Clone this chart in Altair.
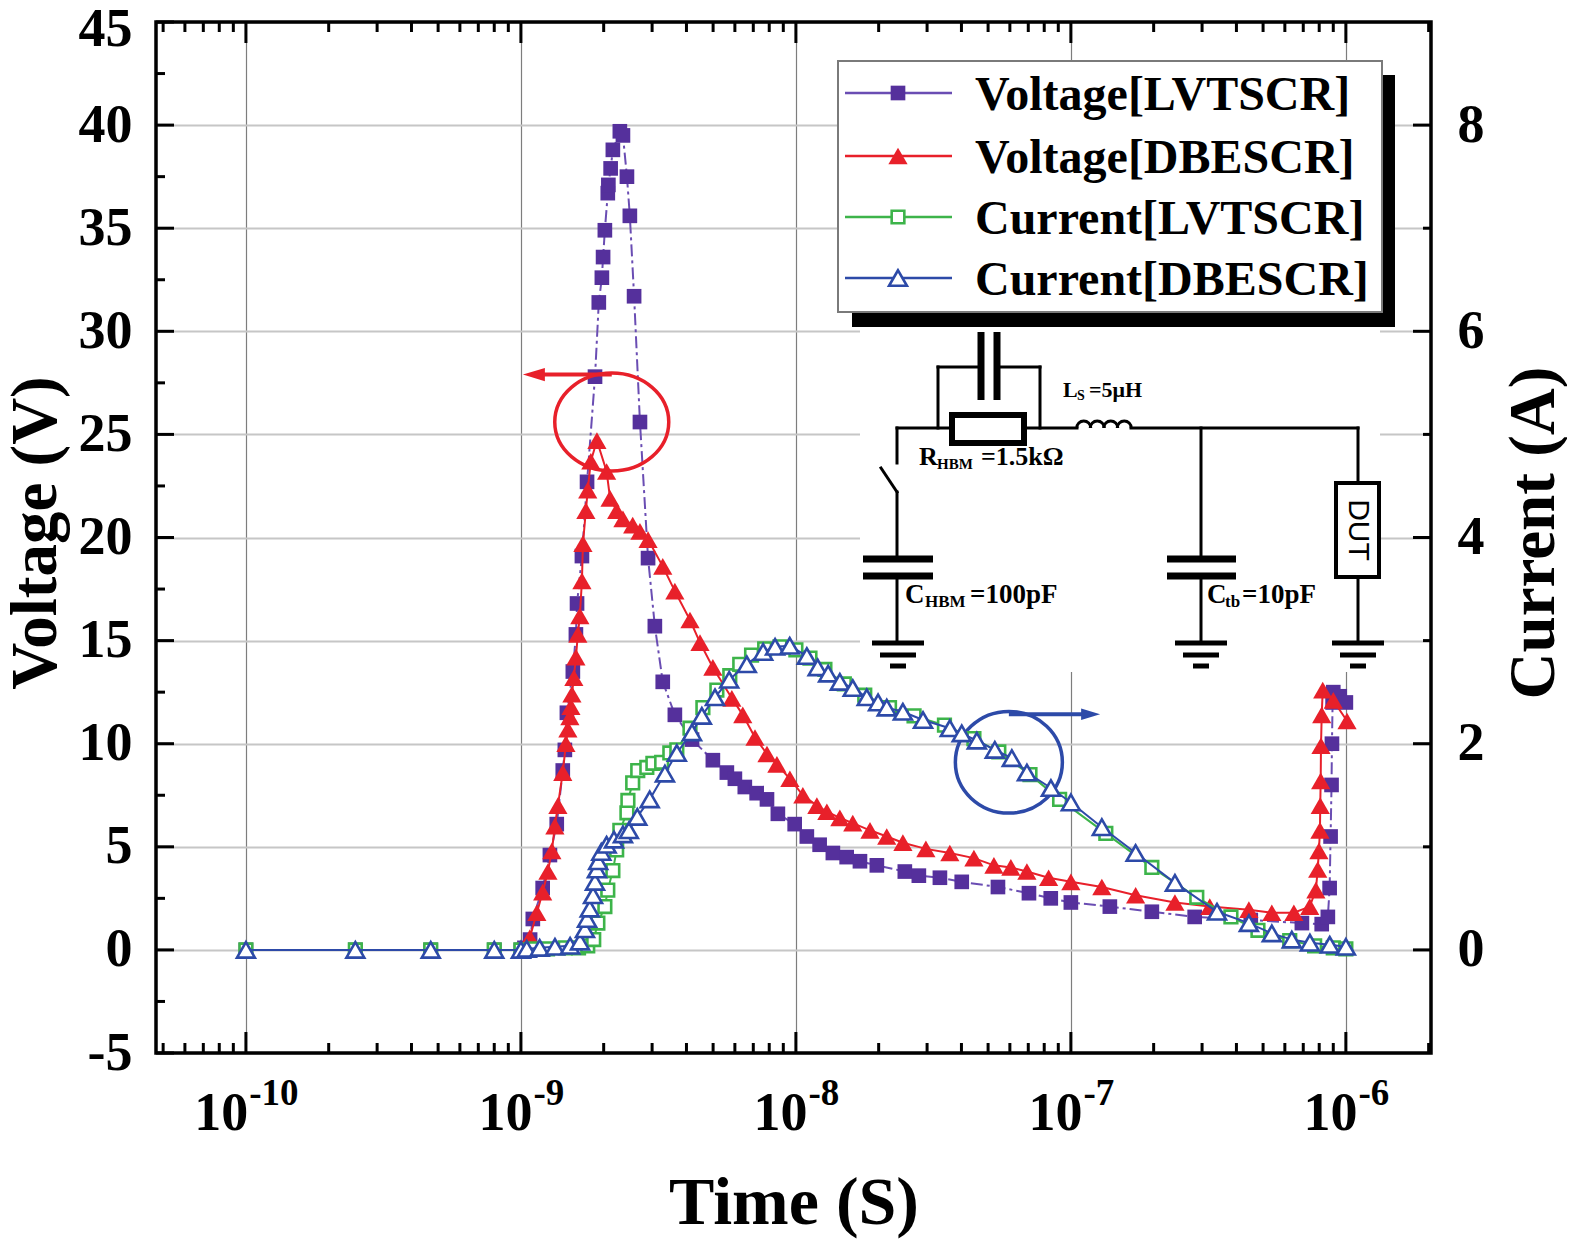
import altair as alt
import pandas as pd

# ---- curves: time (s), voltage (V), current (A) ----
t_volt_lvt = [1e-10, 2.5e-10, 4.7e-10, 8e-10, 1e-9, 1.03e-9, 1.08e-9, 1.105e-9, 1.2e-9, 1.275e-9,
              1.35e-9, 1.42e-9, 1.445e-9, 1.47e-9, 1.545e-9, 1.585e-9, 1.6e-9, 1.667e-9, 1.74e-9, 1.86e-9,
              1.92e-9, 1.97e-9, 1.99e-9, 2.02e-9, 2.07e-9, 2.08e-9, 2.12e-9, 2.16e-9, 2.29e-9, 2.35e-9,
              2.43e-9, 2.49e-9, 2.58e-9, 2.71e-9, 2.9e-9, 3.07e-9, 3.28e-9, 3.63e-9, 4.19e-9, 4.99e-9,
              5.61e-9, 6.0e-9, 6.52e-9, 7.2e-9, 7.85e-9, 8.6e-9, 9.9e-9, 1.096e-8, 1.22e-8, 1.363e-8,
              1.53e-8, 1.71e-8, 1.97e-8, 2.49e-8, 2.8e-8, 3.34e-8, 4.01e-8, 5.43e-8, 7.04e-8, 8.45e-8,
              1e-7, 1.386e-7, 1.97e-7, 2.82e-7, 4.51e-7, 6.92e-7, 8.17e-7, 8.6e-7, 8.73e-7, 8.8e-7,
              8.87e-7, 8.9e-7, 8.95e-7, 9.0e-7, 9.5e-7, 1e-6]
volt_lvt = [0, 0, 0, 0, 0, 0.1, 0.5, 1.5, 3.0, 4.6,
            6.1, 8.7, 9.7, 11.5, 13.5, 15.3, 16.8, 19.1, 22.7, 27.8,
            31.4, 32.6, 33.6, 34.9, 36.7, 37.1, 37.9, 38.8, 39.7, 39.5,
            37.5, 35.6, 31.7, 25.6, 19.0, 15.7, 13.0, 11.4, 10.2, 9.2,
            8.6, 8.3, 7.9, 7.6, 7.3, 6.6, 6.1, 5.5, 5.1, 4.7,
            4.5, 4.3, 4.1, 3.8, 3.6, 3.5, 3.3, 3.05, 2.75, 2.5,
            2.3, 2.1, 1.85, 1.6, 1.45, 1.3, 1.25, 1.6, 3.0, 5.5,
            8.0, 10.0, 12.0, 12.5, 12.3, 12.0]

t_volt_dbe = [1e-10, 2.5e-10, 4.7e-10, 8e-10, 1e-9, 1.04e-9, 1.078e-9, 1.143e-9, 1.2e-9, 1.254e-9,
              1.296e-9, 1.329e-9, 1.363e-9, 1.42e-9, 1.458e-9, 1.482e-9, 1.507e-9, 1.52e-9, 1.533e-9, 1.558e-9,
              1.585e-9, 1.611e-9, 1.638e-9, 1.667e-9, 1.681e-9, 1.723e-9, 1.75e-9, 1.796e-9, 1.89e-9, 2.05e-9,
              2.11e-9, 2.23e-9, 2.35e-9, 2.55e-9, 2.71e-9, 2.9e-9, 3.28e-9, 3.63e-9, 4.12e-9, 4.48e-9,
              4.99e-9, 5.85e-9, 6.41e-9, 7.1e-9, 7.85e-9, 8.53e-9, 9.51e-9, 1.06e-8, 1.192e-8, 1.296e-8,
              1.445e-8, 1.61e-8, 1.86e-8, 2.14e-8, 2.45e-8, 2.97e-8, 3.63e-8, 4.44e-8, 5.25e-8, 6.05e-8,
              6.92e-8, 8.3e-8, 1e-7, 1.296e-7, 1.72e-7, 2.39e-7, 3.2e-7, 4.44e-7, 5.38e-7, 6.47e-7,
              7.39e-7, 7.78e-7, 7.9e-7, 7.98e-7, 8.05e-7, 8.07e-7, 8.1e-7, 8.12e-7, 8.17e-7, 8.24e-7,
              9.0e-7, 1.01e-6]
volt_dbe = [0, 0, 0, 0, 0, 0.1, 0.6, 1.8, 2.8, 3.8,
            4.8, 6.0, 7.0, 8.6, 10.0, 10.7, 11.3, 11.8, 12.4, 13.2,
            14.2, 15.3, 16.2, 17.9, 19.7, 21.3, 22.3, 23.7, 24.7, 23.2,
            21.9, 21.3, 20.9, 20.6, 20.3, 19.9, 18.6, 17.4, 16.0, 14.9,
            13.7, 12.2, 11.4, 10.3, 9.5, 9.0, 8.3, 7.5, 7.0, 6.7,
            6.4, 6.15, 5.8, 5.5, 5.2, 4.9, 4.7, 4.45, 4.1, 4.0,
            3.8, 3.5, 3.3, 3.05, 2.65, 2.3, 2.1, 1.95, 1.8, 1.8,
            2.1, 2.9, 3.9, 4.8, 5.8, 7.0, 8.2, 9.9, 11.4, 12.6,
            12.1, 11.1]

t_curr_lvt = [1e-10, 2.5e-10, 4.7e-10, 8e-10, 1e-9, 1.1e-9, 1.25e-9, 1.45e-9, 1.62e-9, 1.75e-9,
              1.84e-9, 1.905e-9, 2.02e-9, 2.07e-9, 2.16e-9, 2.23e-9, 2.29e-9, 2.43e-9, 2.45e-9, 2.55e-9,
              2.66e-9, 2.87e-9, 3.02e-9, 3.25e-9, 3.48e-9, 3.69e-9, 4.12e-9, 4.59e-9, 5.16e-9, 5.75e-9,
              6.25e-9, 6.9e-9, 7.7e-9, 8.75e-9, 1e-8, 1.125e-8, 1.275e-8, 1.5e-8, 1.78e-8, 2.19e-8,
              2.69e-8, 3.47e-8, 4.44e-8, 5.47e-8, 7.1e-8, 9.1e-8, 1.34e-7, 1.97e-7, 2.87e-7, 3.82e-7,
              4.79e-7, 6.25e-7, 7.7e-7, 9.0e-7, 1e-6]
curr_lvt = [0, 0, 0, 0, 0, 0.01, 0.01, 0.02, 0.02, 0.04,
            0.1, 0.26, 0.42, 0.58, 0.77, 0.97, 1.16, 1.33, 1.45, 1.62,
            1.74, 1.77, 1.81, 1.82, 1.91, 1.94, 2.15, 2.35, 2.52, 2.66,
            2.77, 2.86, 2.92, 2.94, 2.91, 2.83, 2.72, 2.58, 2.47, 2.35,
            2.27, 2.18, 2.05, 1.92, 1.70, 1.46, 1.13, 0.80, 0.51, 0.32,
            0.19, 0.09, 0.04, 0.02, 0.01]

t_curr_dbe = [1e-10, 2.5e-10, 4.7e-10, 8e-10, 1e-9, 1.05e-9, 1.17e-9, 1.33e-9, 1.51e-9, 1.64e-9,
              1.71e-9, 1.74e-9, 1.78e-9, 1.83e-9, 1.86e-9, 1.89e-9, 1.91e-9, 1.96e-9, 2.05e-9, 2.18e-9,
              2.35e-9, 2.47e-9, 2.65e-9, 2.94e-9, 3.34e-9, 3.69e-9, 4.19e-9, 4.55e-9, 5.08e-9, 5.72e-9,
              6.63e-9, 7.6e-9, 8.4e-9, 9.5e-9, 1.096e-8, 1.2e-8, 1.31e-8, 1.445e-8, 1.61e-8, 1.81e-8,
              1.99e-8, 2.14e-8, 2.45e-8, 2.9e-8, 3.63e-8, 4.01e-8, 4.55e-8, 5.29e-8, 6.1e-8, 6.92e-8,
              8.46e-8, 1e-7, 1.296e-7, 1.72e-7, 2.39e-7, 3.4e-7, 4.44e-7, 5.38e-7, 6.36e-7, 7.4e-7,
              8.74e-7, 1e-6]
curr_dbe = [0, 0, 0, 0, 0, 0.01, 0.02, 0.03, 0.04, 0.08,
            0.2, 0.3, 0.4, 0.53, 0.66, 0.78, 0.86, 0.95, 1.02, 1.07,
            1.12, 1.16, 1.29, 1.46, 1.71, 1.91, 2.11, 2.27, 2.45, 2.62,
            2.77, 2.89, 2.94, 2.95, 2.85, 2.74, 2.68, 2.60, 2.54, 2.45,
            2.40, 2.35, 2.31, 2.23, 2.15, 2.10, 2.03, 1.94, 1.86, 1.72,
            1.57, 1.43, 1.19, 0.94, 0.65, 0.37, 0.26, 0.16, 0.10, 0.07,
            0.05, 0.03]

series_names = ["Voltage[LVTSCR]", "Voltage[DBESCR]", "Current[LVTSCR]", "Current[DBESCR]"]
volt_ticks = [-5, 0, 5, 10, 15, 20, 25, 30, 35, 40, 45]
curr_ticks = [0, 2, 4, 6, 8]
decades = [1e-10, 1e-9, 1e-8, 1e-7, 1e-6]
decade_exp = ["-10", "-9", "-8", "-7", "-6"]

# ---- layout (page pixels) ----
W, H = 1275, 1031
X0, Y0 = 156, 22
SERIF = "Liberation Serif"
PURPLE, PURPLE_LINE = "#55309c", "#6a4db3"
RED = "#e8202a"
GREEN = "#3db44a"
BLUE = "#2d4aa8"

xscale = alt.Scale(type="log", domain=[4.71e-11, 2.04e-6], nice=False)
vscale = alt.Scale(domain=[-5, 45], nice=False, zero=False)
iscale = alt.Scale(domain=[-1, 9], nice=False, zero=False)

xaxis = alt.Axis(values=decades, labels=False, ticks=False, domain=False, grid=True,
                 gridColor="#7d7d7d", gridWidth=1.2, title="Time (S)", titleFont=SERIF,
                 titleFontSize=68, titleFontWeight="bold", titleColor="black",
                 titleX=W / 2, titleY=170, titleBaseline="alphabetic", titleAlign="center")
vaxis = alt.Axis(orient="left", values=volt_ticks, ticks=False, domain=False, grid=True,
                 gridColor="#c6c6c6", gridWidth=2, labelFont=SERIF, labelFontSize=54,
                 labelFontWeight="bold", labelColor="black", labelPadding=24, labelOverlap=False,
                 labelExpr="replace(datum.label, '\u2212', '-')",
                 labelOffset={"condition": {"test": "datum.value == 45", "value": 7}, "value": 0},
                 title="Voltage (V)", titleFont=SERIF, titleFontSize=65, titleFontWeight="bold",
                 titleColor="black", titleAngle=270, titleX=-101, titleY=H / 2 - 5,
                 titleBaseline="alphabetic", titleAlign="center")
iaxis = alt.Axis(orient="right", values=curr_ticks, ticks=False, domain=False, grid=False,
                 labelFont=SERIF, labelFontSize=54, labelFontWeight="bold", labelColor="black",
                 labelPadding=26, labelOverlap=False, title="Current (A)", titleFont=SERIF,
                 titleFontSize=65, titleFontWeight="bold", titleColor="black", titleAngle=270,
                 titleX=122, titleY=H / 2 - 5, titleBaseline="alphabetic", titleAlign="center")

X = alt.X("t:Q", scale=xscale, axis=xaxis)
YV = alt.Y("y:Q", scale=vscale, axis=vaxis)
YI = alt.Y("y:Q", scale=iscale, axis=iaxis)

styles = [
    dict(t=t_volt_lvt, y=volt_lvt, Y=YV, line=PURPLE_LINE, col=PURPLE, shape="square",
         hollow=False, size=215, dash=[12, 4, 3, 4]),
    dict(t=t_volt_dbe, y=volt_dbe, Y=YV, line=RED, col=RED, shape="triangle-up",
         hollow=False, size=370, dash=None),
    dict(t=t_curr_lvt, y=curr_lvt, Y=YI, line=GREEN, col=GREEN, shape="square",
         hollow=True, size=160, dash=None),
    dict(t=t_curr_dbe, y=curr_dbe, Y=YI, line=BLUE, col=BLUE, shape="triangle-up",
         hollow=True, size=320, dash=None),
]


def px(x):
    return x - X0


def py(y):
    return y - Y0


one = pd.DataFrame({"k": [0]})


def marker(st, size=None):
    size = size or st["size"]
    if st["hollow"]:
        return dict(shape=st["shape"], size=size, filled=True, fill="white",
                    stroke=st["col"], strokeWidth=2.6, opacity=1)
    return dict(shape=st["shape"], size=size, filled=True, color=st["col"], opacity=1)


volt_parts, curr_parts = [], []
for st in styles:
    df = pd.DataFrame({"t": st["t"], "y": st["y"], "i": range(len(st["t"]))})
    line_kw = dict(color=st["line"], strokeWidth=2)
    if st["dash"]:
        line_kw["strokeDash"] = st["dash"]
    line = alt.Chart(df).mark_line(**line_kw).encode(x=X, y=st["Y"], order="i:Q")
    pts = alt.Chart(df).mark_point(**marker(st)).encode(x=X, y=st["Y"])
    target = volt_parts if st["Y"] is YV else curr_parts
    target += [line, pts]

# inward frame ticks
minor_t = [m * 10.0 ** e for e in range(-11, -5) for m in range(2, 10)]
minor_t = [t for t in minor_t if 4.8e-11 < t < 2.05e-6]
minor_v = [v + 2.5 for v in volt_ticks[:-1]]
minor_i = [1, 3, 5, 7]

def xticks(vals, y1, y2):
    return alt.Chart(pd.DataFrame({"t": vals})).mark_rule(color="black", strokeWidth=3).encode(
        x=X, y=alt.value(y1), y2=alt.value(y2))

def yticks(vals, Y, x1, x2):
    return alt.Chart(pd.DataFrame({"y": vals})).mark_rule(color="black", strokeWidth=3).encode(
        y=Y, x=alt.value(x1), x2=alt.value(x2))

volt_parts += [
    xticks(decades, H, H - 21), xticks(minor_t, H, H - 10),
    xticks(decades, 0, 21), xticks(minor_t, 0, 10),
    yticks(volt_ticks, YV, 0, 18), yticks(minor_v, YV, 0, 9),
]
curr_parts += [yticks(curr_ticks, YI, W - 18, W), yticks(minor_i, YI, W - 8, W)]

# x tick labels as 10 with superscript exponent
for t, e in zip(decades, decade_exp):
    sup_w = 12.3 + 18.5 * (len(e) - 1)
    dx = (54 - sup_w) / 2
    base = alt.Chart(pd.DataFrame({"t": [t]}))
    volt_parts.append(base.mark_text(text="10", align="right", baseline="alphabetic", dx=dx,
                                     font=SERIF, fontSize=54, fontWeight="bold", color="black")
                      .encode(x=X, y=alt.value(H + 77)))
    volt_parts.append(base.mark_text(text=e, align="left", baseline="alphabetic", dx=dx + 1,
                                     font=SERIF, fontSize=37, fontWeight="bold", color="black")
                      .encode(x=X, y=alt.value(H + 52)))

# ring + arrow annotations (data coordinates)
ring_red = pd.DataFrame({"t": [2.14e-9], "y": [25.6]})
ring_blue = pd.DataFrame({"t": [5.95e-8], "y": [9.1]})
ellipse_red = "M -1 0 A 1 0.86 0 1 0 1 0 A 1 0.86 0 1 0 -1 0 Z"
ellipse_blue = "M -1 0 A 1 0.95 0 1 0 1 0 A 1 0.95 0 1 0 -1 0 Z"
volt_parts += [
    alt.Chart(ring_red).mark_point(shape=ellipse_red, size=114 ** 2, filled=False, stroke=RED,
                                   strokeWidth=3.5, opacity=1).encode(x=X, y=YV),
    alt.Chart(ring_blue).mark_point(shape=ellipse_blue, size=107 ** 2, filled=False, stroke=BLUE,
                                    strokeWidth=3.5, opacity=1).encode(x=X, y=YV),
    alt.Chart(pd.DataFrame({"t": [1.13e-9], "t2": [2.14e-9], "y": [27.9]})).mark_rule(
        color=RED, strokeWidth=4).encode(x=X, x2="t2:Q", y=YV),
    alt.Chart(pd.DataFrame({"t": [1.115e-9], "y": [27.9]})).mark_point(
        shape="M -1 0 L 1 -0.6 L 1 0.6 Z", size=484, filled=True, color=RED, opacity=1).encode(x=X, y=YV),
    alt.Chart(pd.DataFrame({"t": [5.95e-8], "t2": [1.16e-7], "y": [11.43]})).mark_rule(
        color=BLUE, strokeWidth=4).encode(x=X, x2="t2:Q", y=YV),
    alt.Chart(pd.DataFrame({"t": [1.18e-7], "y": [11.43]})).mark_point(
        shape="M 1 0 L -1 -0.6 L -1 0.6 Z", size=360, filled=True, color=BLUE, opacity=1).encode(x=X, y=YV),
]

volt = alt.layer(*volt_parts)
curr = alt.layer(*curr_parts)

# ---- inset schematic (page pixels) ----
PXX = alt.X("x1:Q", scale=None, axis=None)
PXY = alt.Y("y1:Q", scale=None, axis=None)


def pix_rules(rows, width, cap="square"):
    df = pd.DataFrame([(px(a), py(b), px(c), py(d)) for a, b, c, d in rows],
                      columns=["x1", "y1", "x2", "y2"])
    return alt.Chart(df).mark_rule(color="black", strokeWidth=width, strokeCap=cap).encode(
        x=PXX, x2="x2:Q", y=PXY, y2="y2:Q")


def pix_rect(x1, y1, x2, y2, **kw):
    return alt.Chart(one).mark_rect(**kw).encode(
        x=alt.value(px(x1)), x2=alt.value(px(x2)), y=alt.value(py(y1)), y2=alt.value(py(y2)))


wires = [(897, 428, 897, 463), (881, 468, 897, 492), (897, 492, 897, 559), (897, 576, 897, 643),
         (897, 428, 952, 428), (1024, 428, 1077, 428), (1131, 428, 1358, 428),
         (938, 367, 938, 428), (1040, 367, 1040, 428), (938, 367, 981, 367), (997, 367, 1040, 367),
         (1201, 428, 1201, 559), (1201, 576, 1201, 643), (1358, 428, 1358, 483), (1358, 577, 1358, 643)]
plates = [(981, 332, 981, 400), (997, 332, 997, 400), (863, 559, 933, 559), (863, 576, 933, 576),
          (1167, 559, 1236, 559), (1167, 576, 1236, 576)]
grounds = []
for cx in (898, 1201, 1358):
    grounds += [(cx - 26, 643, cx + 26, 643), (cx - 18, 655, cx + 18, 655), (cx - 8, 666, cx + 8, 666)]

humps = pd.DataFrame({"x1": [px(1077 + 6.75 * (2 * k + 1)) for k in range(4)], "y1": [py(428)] * 4})
inductor = alt.Chart(humps).mark_arc(theta=4.712, theta2=7.854, radius=8.5, radius2=5.5,
                                     color="black").encode(x=PXX, y=PXY)

labels = [("R", 919, 465, 26), ("HBM", 937, 469, 15), ("=1.5kΩ", 981, 465, 26),
          ("L", 1063, 397, 22), ("S", 1077, 400, 14), ("=5μH", 1089, 397, 22),
          ("C", 905, 603, 27), ("HBM", 925, 607, 17), ("=100pF", 970, 603, 27),
          ("C", 1207, 603, 27), ("tb", 1225, 607, 17), ("=10pF", 1242, 603, 27)]
lab_df = pd.DataFrame([(s, px(x), py(y), f) for s, x, y, f in labels], columns=["s", "x1", "y1", "f"])
schem_text = alt.Chart(lab_df).mark_text(align="left", baseline="alphabetic", font=SERIF,
                                         fontWeight="bold", color="black").encode(
    x=PXX, y=PXY, text="s:N", size=alt.Size("f:Q", scale=None, legend=None))
dut = alt.Chart(one).mark_text(text="DUT", angle=90, align="center", baseline="middle",
                               font="Liberation Sans", fontSize=30, color="black").encode(
    x=alt.value(px(1358)), y=alt.value(py(530)))

inset_bg = pix_rect(860, 318, 1380, 672, color="white")
schematic = [pix_rules(wires, 3), pix_rules(plates, 7, "butt"), pix_rules(grounds, 5, "butt"),
             pix_rect(952, 415, 1024, 443, fill="white", stroke="black", strokeWidth=6),
             pix_rect(1336, 483, 1379, 577, fill="white", stroke="black", strokeWidth=4),
             inductor, schem_text, dut]

# ---- legend box (page pixels) ----
legend = [pix_rect(852, 75, 1395, 327, color="black"),
          pix_rect(838, 61, 1382, 312, fill="white", stroke="#7a7a7a", strokeWidth=2)]
for st, name, ry in zip(styles, series_names, (93, 156, 217, 278)):
    legend.append(alt.Chart(one).mark_rule(color=st["line"], strokeWidth=2.5).encode(
        x=alt.value(px(845)), x2=alt.value(px(952)), y=alt.value(py(ry))))
    legend.append(alt.Chart(one).mark_point(**marker(st)).encode(
        x=alt.value(px(898)), y=alt.value(py(ry))))
    legend.append(alt.Chart(one).mark_text(text=name, align="left", baseline="alphabetic",
                                           font=SERIF, fontSize=48, fontWeight="bold",
                                           color="black").encode(
        x=alt.value(px(975)), y=alt.value(py(ry + 17))))

frame = alt.Chart(one).mark_rect(fillOpacity=0, stroke="black", strokeWidth=3.5).encode(
    x=alt.value(0), x2=alt.value(W), y=alt.value(0), y2=alt.value(H))

chart = alt.layer(inset_bg, *schematic, volt, curr, *legend, frame).resolve_scale(
    y="independent").properties(
    width=W, height=H, autosize=alt.AutoSizeParams(type="none"),
    padding={"left": X0 - 8, "top": Y0 - 8, "right": 136, "bottom": 190},
    background="white",
).configure_view(strokeWidth=0)

chart.save("out.html", embed_options={"renderer": "svg", "actions": False})
